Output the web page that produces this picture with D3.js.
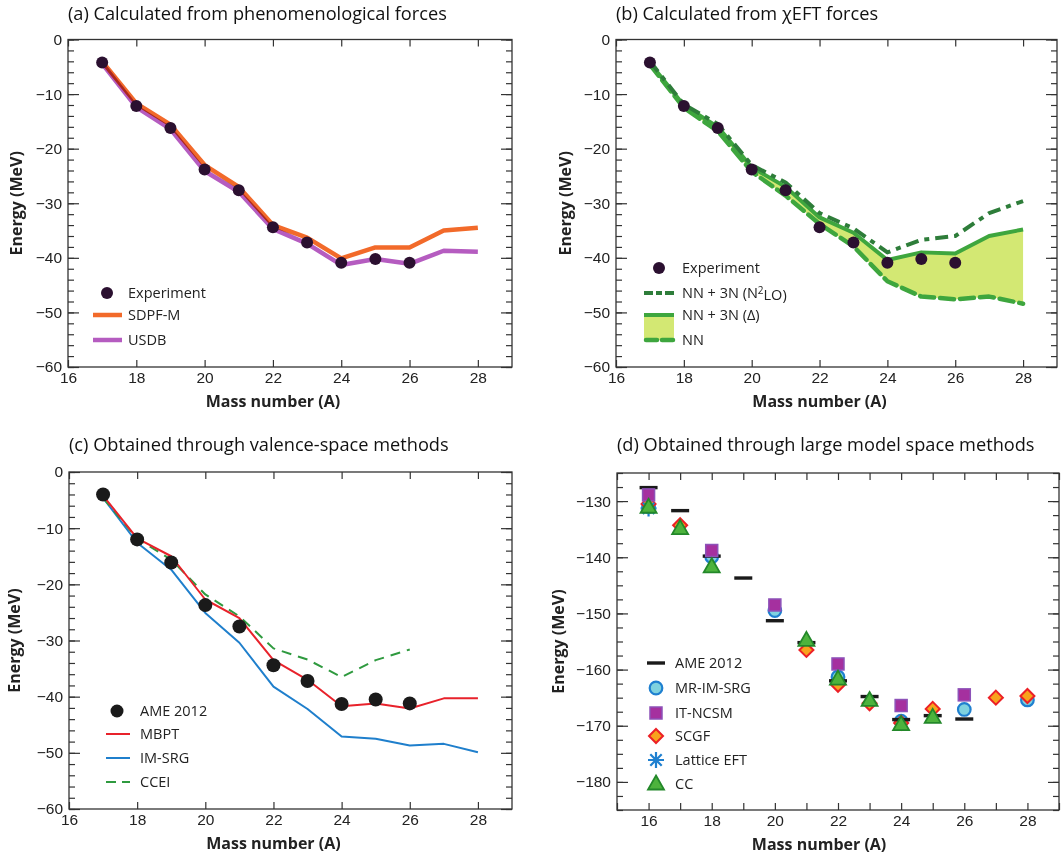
<!DOCTYPE html>
<html>
<head>
<meta charset="utf-8">
<script src="https://cdn.jsdelivr.net/npm/d3@7"></script>
<style>
  body { margin: 0; background: #fff; }
  svg { font-family: "Open Sans", sans-serif; }
  .tick text { font-size: 15.5px; fill: #222; }
  .tick line { stroke: #333; stroke-width: 1.2; }
  .domain { display: none; }
  .title { font-size: 18.2px; fill: #111; }
  .axlabel { font-size: 16px; font-weight: bold; fill: #222; }
  .leg { font-size: 14.5px; fill: #222; }
</style>
</head>
<body>
<div id="chart"></div>
<script>
// ---- data ----
// panels a and b share the experimental values
const expMass = [17, 18, 19, 20, 21, 22, 23, 24, 25, 26];
const expEnergy = [-4.2, -12.2, -16.2, -23.8, -27.6, -34.4, -37.2, -40.9, -40.2, -40.9];

const calcMass = [17, 18, 19, 20, 21, 22, 23, 24, 25, 26, 27, 28];
const sdpfm = [-4.0, -11.7, -15.6, -23.0, -27.0, -34.0, -36.3, -40.1, -38.1, -38.1, -35.0, -34.5];
const usdb = [-4.4, -12.4, -16.4, -24.1, -27.9, -34.7, -37.4, -41.3, -40.2, -41.1, -38.7, -38.9];

const n2lo = [-4.0, -11.9, -15.5, -23.0, -26.2, -31.8, -34.6, -39.0, -36.7, -36.0, -31.8, -29.6];
const delta = [-4.3, -12.1, -16.0, -23.4, -27.0, -32.6, -35.4, -40.4, -39.0, -39.2, -36.0, -34.8];
const nnOnly = [-4.6, -12.5, -16.8, -24.2, -28.6, -33.8, -37.9, -44.3, -47.1, -47.6, -47.1, -48.4];

// panel c
const ameMassC = [17, 18, 19, 20, 21, 22, 23, 24, 25, 26];
const ameC = [-4.0, -12.0, -16.1, -23.7, -27.5, -34.4, -37.2, -41.3, -40.5, -41.2];
const mbpt = [-4.2, -11.8, -15.0, -22.7, -26.0, -33.5, -37.0, -41.7, -41.2, -42.1, -40.3, -40.3];
const imsrg = [-4.6, -12.6, -17.4, -25.1, -30.4, -38.2, -42.2, -47.1, -47.5, -48.7, -48.4, -49.9];
const cceiMass = [17, 18, 19, 20, 21, 22, 23, 24, 25, 26];
const ccei = [-4.6, -11.9, -15.6, -21.8, -25.7, -31.4, -33.4, -36.5, -33.5, -31.6];

// panel d
const ameMassD = [16, 17, 18, 19, 20, 21, 22, 23, 24, 25, 26];
const ameD = [-127.6, -131.7, -139.8, -143.7, -151.3, -155.2, -162.0, -164.8, -168.9, -168.2, -168.8];
const mrMass = [16, 18, 20, 22, 24, 26, 28];
const mrImSrg = [-131.0, -139.9, -149.5, -161.3, -169.2, -167.1, -165.4];
const ncsmMass = [16, 18, 20, 22, 24, 26];
const itNcsm = [-128.9, -138.8, -148.5, -159.0, -166.4, -164.5];
const scgfMass = [16, 17, 21, 22, 23, 24, 25, 27, 28];
const scgf = [-130.5, -134.3, -156.5, -162.7, -166.0, -169.5, -167.0, -165.0, -164.7];
const latticeMass = [16];
const lattice = [-131.3];
const ccMass = [16, 17, 18, 21, 22, 23, 24, 25];
const ccD = [-131.1, -134.9, -141.7, -154.8, -161.7, -165.5, -169.8, -168.5];

const W = 1061, H = 856;
const svg = d3.select("#chart").append("svg").attr("width", W).attr("height", H);

function zip(xs, ys) { return xs.map((x, i) => ({x: x, y: ys[i]})); }

function makePanel(box, xDom, yDom, opts) {
    let g = svg.append("g").attr("transform", "translate(" + box.left + "," + box.top + ")");
    let w = box.right - box.left, h = box.bottom - box.top;
    let x = d3.scaleLinear().domain(xDom).range([0, w]);
    let y = d3.scaleLinear().domain(yDom).range([h, 0]);

    g.append("text").attr("class", "title").attr("x", 0).attr("y", box.titleY - box.top).text(opts.title);

    // ticks, all pointing inward
    g.append("g").call(d3.axisLeft(y).tickValues(opts.yMinor).tickSize(-6).tickFormat(""));
    g.append("g").call(d3.axisLeft(y).tickValues(opts.yMajor).tickSize(-11).tickPadding(6));
    g.append("g").attr("transform", "translate(" + w + ",0)")
        .call(d3.axisRight(y).tickValues(opts.yMinor).tickSize(-6).tickFormat(""));
    g.append("g").attr("transform", "translate(" + w + ",0)")
        .call(d3.axisRight(y).tickValues(opts.yMajor).tickSize(-11).tickFormat(""));
    g.append("g").attr("transform", "translate(0," + h + ")")
        .call(d3.axisBottom(x).tickValues(opts.xTicks).tickSize(-7).tickPadding(5)
            .tickFormat(d => opts.xLabels.includes(d) ? d : ""));
    g.append("g").call(d3.axisTop(x).tickValues(opts.xTicks).tickSize(-7).tickFormat(""));

    g.append("rect").attr("width", w).attr("height", h)
        .attr("fill", "none").attr("stroke", "#333").attr("stroke-width", 1.3);

    g.append("text").attr("class", "axlabel").attr("text-anchor", "middle")
        .attr("x", x(opts.xLabelAt)).attr("y", h + 40).text("Mass number (A)");
    g.append("text").attr("class", "axlabel").attr("text-anchor", "middle")
        .attr("transform", "translate(" + (opts.yLabelX - box.left) + "," + (h / 2) + ") rotate(-90)")
        .text("Energy (MeV)");

    return {g: g, x: x, y: y, w: w, h: h};
}

const eTicks = d3.range(-60, 1, 10);
const eMinor = d3.range(-60, 1, 2);
const evenA = [16, 18, 20, 22, 24, 26, 28];

function addLine(p, pts, color, width, dash, extra) {
    let line = d3.line().x(d => p.x(d.x)).y(d => p.y(d.y));
    let path = p.g.append("path").datum(pts).attr("d", line)
        .attr("fill", "none").attr("stroke", color).attr("stroke-width", width)
        .attr("stroke-linejoin", "round");
    if (dash) path.attr("stroke-dasharray", dash);
    if (extra) extra(path);
    return path;
}

function addDots(p, pts, r, color) {
    p.g.selectAll(null).data(pts).enter().append("circle")
        .attr("cx", d => p.x(d.x)).attr("cy", d => p.y(d.y)).attr("r", r).attr("fill", color);
}

// ---------- panel (a) ----------
let pa = makePanel({left: 68, right: 512, top: 39.5, bottom: 367, titleY: 20}, [16, 29], [-60, 0],
    {title: "(a)  Calculated from phenomenological forces", yMajor: eTicks, yMinor: eMinor,
     xTicks: evenA, xLabels: evenA, xLabelAt: 22, yLabelX: 22});
const orange = "#f26a2a", purple = "#b55cc0", expCol = "#2b1030";
addLine(pa, zip(calcMass, sdpfm), orange, 4.5, null, s => s.style("mix-blend-mode", "multiply"));
addLine(pa, zip(calcMass, usdb), purple, 4.5, null, s => s.style("mix-blend-mode", "multiply"));
addDots(pa, zip(expMass, expEnergy), 6, expCol);

// legend (a)
let la = pa.g.append("g");
la.append("circle").attr("cx", 107 - 68).attr("cy", 293 - 39.5).attr("r", 6).attr("fill", expCol);
la.append("line").attr("x1", 93 - 68).attr("x2", 122 - 68).attr("y1", 315 - 39.5).attr("y2", 315 - 39.5)
    .attr("stroke", orange).attr("stroke-width", 4.5);
la.append("line").attr("x1", 93 - 68).attr("x2", 122 - 68).attr("y1", 340 - 39.5).attr("y2", 340 - 39.5)
    .attr("stroke", purple).attr("stroke-width", 4.5);
[["Experiment", 293], ["SDPF-M", 315], ["USDB", 340]].forEach(d => {
    la.append("text").attr("class", "leg").attr("x", 128 - 68).attr("y", d[1] - 39.5).attr("dy", "0.35em").text(d[0]);
});

// ---------- panel (b) ----------
let pb = makePanel({left: 616, right: 1057, top: 39.5, bottom: 367, titleY: 20}, [16, 29], [-60, 0],
    {title: "(b)  Calculated from χEFT forces", yMajor: eTicks, yMinor: eMinor,
     xTicks: evenA, xLabels: evenA, xLabelAt: 22, yLabelX: 571});
const darkGreen = "#2e7d3a", green = "#3ea63e", lime = "#d3e873";
let area = d3.area().x((d, i) => pb.x(calcMass[i])).y0((d, i) => pb.y(nnOnly[i])).y1(d => pb.y(d));
pb.g.append("path").datum(delta).attr("d", area).attr("fill", lime);
addLine(pb, zip(calcMass, nnOnly), green, 4.5, "14,6", s => s.attr("stroke-linecap", "round"));
addLine(pb, zip(calcMass, delta), green, 4);
addLine(pb, zip(calcMass, n2lo), darkGreen, 4, "13,6,5,6");
addDots(pb, zip(expMass, expEnergy), 6, expCol);

let lb = pb.g.append("g").attr("transform", "translate(" + (-616) + "," + (-39.5) + ")");
lb.append("circle").attr("cx", 659).attr("cy", 268).attr("r", 6).attr("fill", expCol);
lb.append("line").attr("x1", 644).attr("x2", 675).attr("y1", 293).attr("y2", 293)
    .attr("stroke", darkGreen).attr("stroke-width", 4).attr("stroke-dasharray", "9,3,6,3");
lb.append("rect").attr("x", 644).attr("y", 315).attr("width", 30).attr("height", 25).attr("fill", lime);
lb.append("line").attr("x1", 644).attr("x2", 674).attr("y1", 315).attr("y2", 315)
    .attr("stroke", green).attr("stroke-width", 4);
lb.append("line").attr("x1", 646).attr("x2", 673).attr("y1", 340).attr("y2", 340)
    .attr("stroke", green).attr("stroke-width", 4.5).attr("stroke-dasharray", "11,5").attr("stroke-linecap", "round");
lb.append("text").attr("class", "leg").attr("x", 682).attr("y", 268).attr("dy", "0.35em").text("Experiment");
let t2 = lb.append("text").attr("class", "leg").attr("x", 682).attr("y", 293).attr("dy", "0.35em");
t2.append("tspan").text("NN + 3N (N");
t2.append("tspan").attr("dy", "-0.4em").style("font-size", "10px").text("2");
t2.append("tspan").attr("dy", "0.4em").text("LO)");
lb.append("text").attr("class", "leg").attr("x", 682).attr("y", 315).attr("dy", "0.35em").text("NN + 3N (Δ)");
lb.append("text").attr("class", "leg").attr("x", 682).attr("y", 340).attr("dy", "0.35em").text("NN");

// ---------- panel (c) ----------
let pc = makePanel({left: 69, right: 512, top: 472, bottom: 809, titleY: 451}, [16, 29], [-60, 0],
    {title: "(c)  Obtained through valence-space methods", yMajor: eTicks, yMinor: eMinor,
     xTicks: evenA, xLabels: evenA, xLabelAt: 22, yLabelX: 20});
const red = "#e8222b", blue = "#1f7fcc", cceiGreen = "#2f9a3f";
addLine(pc, zip(calcMass, imsrg), blue, 2);
addLine(pc, zip(cceiMass, ccei), cceiGreen, 2, "10,7");
addLine(pc, zip(calcMass, mbpt), red, 2);
addDots(pc, zip(ameMassC, ameC), 7, "#1a1a1a");

let lc = pc.g.append("g").attr("transform", "translate(" + (-69) + "," + (-472) + ")");
lc.append("circle").attr("cx", 117).attr("cy", 711).attr("r", 6.5).attr("fill", "#1a1a1a");
[[red, 734, null], [blue, 758, null], [cceiGreen, 782, "10,6"]].forEach(d => {
    let l = lc.append("line").attr("x1", 106).attr("x2", 130).attr("y1", d[1]).attr("y2", d[1])
        .attr("stroke", d[0]).attr("stroke-width", 2);
    if (d[2]) l.attr("stroke-dasharray", d[2]);
});
[["AME 2012", 711], ["MBPT", 734], ["IM-SRG", 758], ["CCEI", 782]].forEach(d => {
    lc.append("text").attr("class", "leg").attr("x", 140).attr("y", d[1]).attr("dy", "0.35em").text(d[0]);
});

// ---------- panel (d) ----------
let pd = makePanel({left: 617, right: 1059, top: 473, bottom: 810, titleY: 451}, [15, 29], [-185, -125],
    {title: "(d)  Obtained through large model space methods", yMajor: d3.range(-180, -125, 10),
     yMinor: d3.range(-185, -124, 2.5), xTicks: d3.range(15, 30), xLabels: evenA, xLabelAt: 21.4, yLabelX: 564});

const mk = {
    circle: (s) => s.append("circle").attr("r", 6.3).attr("fill", "#7fd2df").attr("stroke", "#1f80d0").attr("stroke-width", 2.2),
    square: (s) => s.append("rect").attr("x", -6).attr("y", -6).attr("width", 12).attr("height", 12)
        .attr("fill", "#a5309f").attr("stroke", "#8d52b8").attr("stroke-width", 1.5),
    diamond: (s) => s.append("path").attr("d", "M0,-7L7,0L0,7L-7,0Z")
        .attr("fill", "#f8a21c").attr("stroke", "#ec2026").attr("stroke-width", 2),
    star: (s) => s.append("path").attr("d", "M-8,0H8M0,-8V8M-5.7,-5.7L5.7,5.7M-5.7,5.7L5.7,-5.7")
        .attr("stroke", "#1f80d0").attr("stroke-width", 2.2),
    triangle: (s) => s.append("path").attr("d", "M0,-8.5L8,5.5L-8,5.5Z")
        .attr("fill", "#4db33d").attr("stroke", "#23882a").attr("stroke-width", 1.8),
    bar: (s) => s.append("rect").attr("x", -9).attr("y", -1.7).attr("width", 18).attr("height", 3.4).attr("fill", "#1a1a1a")
};

function addSymbols(p, pts, kind) {
    p.g.selectAll(null).data(pts).enter().append("g")
        .attr("transform", d => "translate(" + p.x(d.x) + "," + p.y(d.y) + ")")
        .each(function () { mk[kind](d3.select(this)); });
}
addSymbols(pd, zip(mrMass, mrImSrg), "circle");
addSymbols(pd, zip(scgfMass, scgf), "diamond");
addSymbols(pd, zip(ameMassD, ameD), "bar");
addSymbols(pd, zip(ncsmMass, itNcsm), "square");
addSymbols(pd, zip(latticeMass, lattice), "star");
addSymbols(pd, zip(ccMass, ccD), "triangle");

let ld = pd.g.append("g").attr("transform", "translate(" + (-617) + "," + (-473) + ")");
[["AME 2012", "bar", 663], ["MR-IM-SRG", "circle", 688], ["IT-NCSM", "square", 713],
 ["SCGF", "diamond", 736], ["Lattice EFT", "star", 760], ["CC", "triangle", 784]].forEach(d => {
    mk[d[1]](ld.append("g").attr("transform", "translate(656," + d[2] + ")"));
    ld.append("text").attr("class", "leg").attr("x", 675).attr("y", d[2]).attr("dy", "0.35em").text(d[0]);
});
</script>
</body>
</html>
